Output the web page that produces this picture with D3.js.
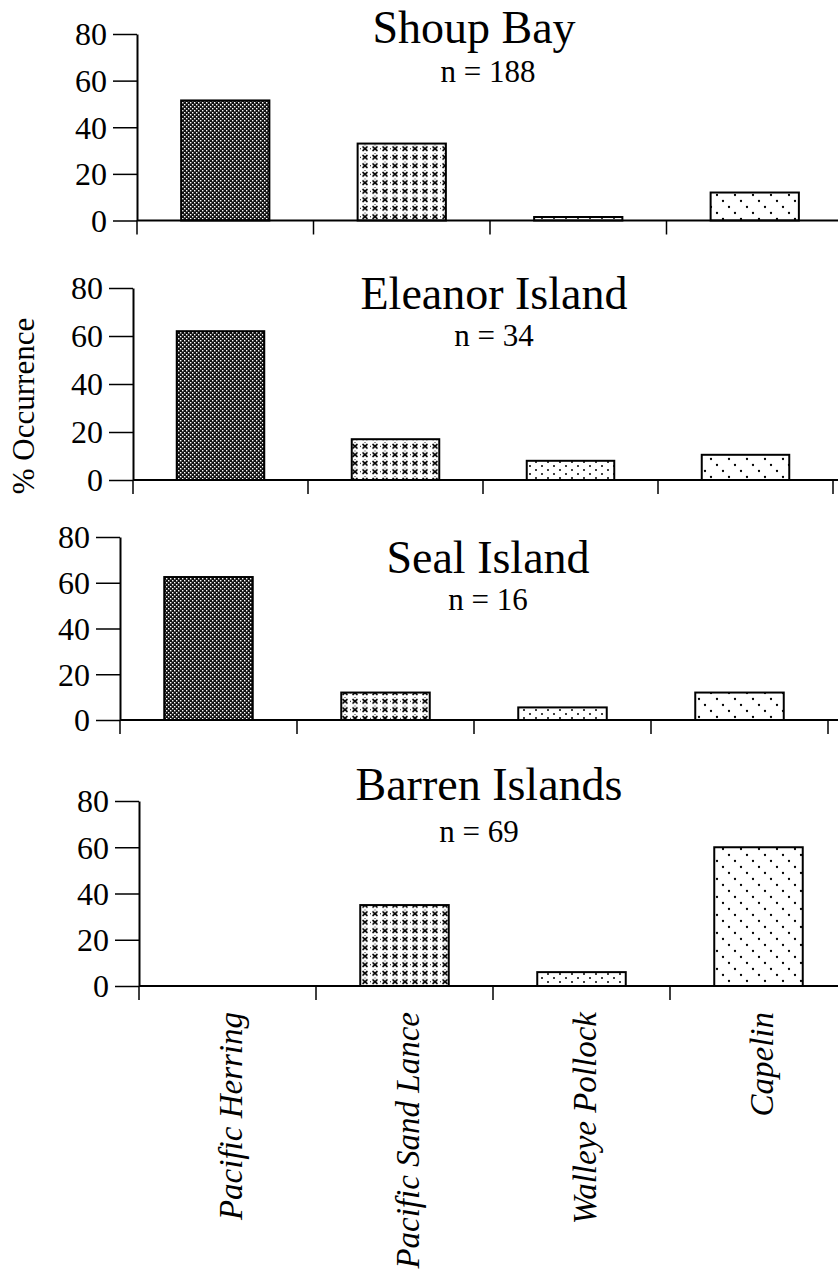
<!DOCTYPE html>
<html><head><meta charset="utf-8">
<script src="https://cdn.jsdelivr.net/npm/d3@7"></script>
<style>
html,body{margin:0;padding:0;background:#fff;}
svg{display:block;}
text{font-family:"Liberation Serif","Times New Roman",serif;fill:#000;}
</style></head>
<body>
<svg id="chart" width="838" height="1280"></svg>
<script>
// ---- data ----
const categories = ["Pacific Herring", "Pacific Sand Lance", "Walleye Pollock", "Capelin"];
const sites = ["Shoup Bay", "Eleanor Island", "Seal Island", "Barren Islands"];
const sampleSizes = [188, 34, 16, 69];
const shoupBay = [51.5, 33, 1.5, 12];
const eleanorIsland = [62, 17, 8, 10.5];
const sealIsland = [62.5, 12, 5.5, 12];
const barrenIslands = [0, 35, 6, 60];
const yTicks = [0, 20, 40, 60, 80];
const seriesValues = [shoupBay, eleanorIsland, sealIsland, barrenIslands];

// ---- layout ----
const panels = [
  {axisX:137, y0:220.5, yTop:34,  step:176.5, titleX:474, titleY:43,  nX:488, nY:82},
  {axisX:133, y0:480,   yTop:288, step:175,   titleX:494, titleY:309, nX:494, nY:346},
  {axisX:120, y0:720,   yTop:537, step:177,   titleX:488, titleY:573, nX:488, nY:610},
  {axisX:139, y0:986,   yTop:801, step:177,   titleX:489, titleY:800, nX:479, nY:842}
];

const svg = d3.select("#chart");
const defs = svg.append("defs");

// patterns
const pHer = defs.append("pattern").attr("id","pat0").attr("patternUnits","userSpaceOnUse").attr("width",4).attr("height",4);
pHer.append("rect").attr("width",4).attr("height",4).attr("fill","#111");
pHer.append("rect").attr("x",0).attr("y",0).attr("width",1.4).attr("height",1.4).attr("fill","#fff");
pHer.append("rect").attr("x",2).attr("y",2).attr("width",1.4).attr("height",1.4).attr("fill","#fff");

const pSL = defs.append("pattern").attr("id","pat1").attr("patternUnits","userSpaceOnUse").attr("width",10).attr("height",8.5);
pSL.append("rect").attr("width",10).attr("height",8.5).attr("fill","#fff");
pSL.append("path").attr("d","M2.5,2 L7.5,6.5 M7.5,2 L2.5,6.5").attr("stroke","#000").attr("stroke-width",1.7);
pSL.append("rect").attr("x",0).attr("y",3.8).attr("width",1).attr("height",1).attr("fill","#000");
pSL.append("rect").attr("x",4.5).attr("y",0).attr("width",1).attr("height",0.8).attr("fill","#000");

const pWP = defs.append("pattern").attr("id","pat2").attr("patternUnits","userSpaceOnUse").attr("width",12).attr("height",8);
pWP.append("rect").attr("width",12).attr("height",8).attr("fill","#fff");
pWP.append("circle").attr("cx",2).attr("cy",2).attr("r",1).attr("fill","#000");
pWP.append("circle").attr("cx",8).attr("cy",6).attr("r",1).attr("fill","#000");

const pCap = defs.append("pattern").attr("id","pat3").attr("patternUnits","userSpaceOnUse").attr("width",18).attr("height",18);
pCap.append("rect").attr("width",18).attr("height",18).attr("fill","#fff");
[3,9,15].forEach(v=>pCap.append("circle").attr("cx",v).attr("cy",v).attr("r",1.15).attr("fill","#000"));

panels.forEach((p, pi) => {
  const g = svg.append("g");
  const x = d3.scaleBand().domain(categories)
      .range([p.axisX, p.axisX + p.step*categories.length])
      .paddingInner(0.5).paddingOuter(0.25);
  const y = d3.scaleLinear().domain([0, 80]).range([p.y0, p.yTop]);

  // bars
  const data = categories.map((c,i)=>({c, v: seriesValues[pi][i], i}));
  g.selectAll("rect.bar").data(data.filter(d=>d.v>0)).join("rect")
    .attr("class","bar")
    .attr("x", d=>x(d.c)).attr("width", x.bandwidth())
    .attr("y", d=>y(d.v)).attr("height", d=>y(0)-y(d.v))
    .attr("fill", d=>`url(#pat${d.i})`)
    .attr("stroke","#000").attr("stroke-width",2);

  // x baseline
  g.append("line").attr("x1",p.axisX).attr("x2",838)
    .attr("y1",y(0)).attr("y2",y(0)).attr("stroke","#000").attr("stroke-width",2);
  // x boundary ticks
  const bounds = d3.range(categories.length+1).map(k => x.range()[0] + k*x.step());
  g.selectAll("line.xt").data(bounds).join("line").attr("class","xt")
    .attr("x1",d=>d).attr("x2",d=>d)
    .attr("y1",y(0)).attr("y2",y(0)+14)
    .attr("stroke","#000").attr("stroke-width",1.5);

  // y axis
  const ax = g.append("g").attr("transform",`translate(${p.axisX},0)`)
    .call(d3.axisLeft(y).tickValues(yTicks).tickSize(24).tickPadding(6).tickSizeOuter(0));
  ax.attr("font-family",null);
  ax.select(".domain").attr("stroke","#000").attr("stroke-width",2);
  ax.selectAll(".tick line").attr("stroke","#000").attr("stroke-width",1.5);
  ax.selectAll(".tick text").attr("font-size",32).attr("fill","#000").attr("dy","0.34em");

  // titles
  g.append("text").attr("x",p.titleX).attr("y",p.titleY).attr("text-anchor","middle")
    .attr("font-size",46).text(sites[pi]);
  g.append("text").attr("x",p.nX).attr("y",p.nY).attr("text-anchor","middle")
    .attr("font-size",31).text("n = " + sampleSizes[pi]);

  // category labels under last panel
  if (pi === panels.length-1) {
    categories.forEach(c => {
      const cx = x(c) + x.bandwidth()/2 + 14;
      g.append("text")
        .attr("transform",`translate(${cx},1012) rotate(-90)`)
        .attr("text-anchor","end")
        .attr("font-size",33).attr("font-style","italic")
        .text(c);
    });
  }
});

// y axis title
svg.append("text").attr("transform","translate(34,406) rotate(-90)")
  .attr("text-anchor","middle").attr("font-size",31).text("% Occurrence");
</script>
</body></html>
